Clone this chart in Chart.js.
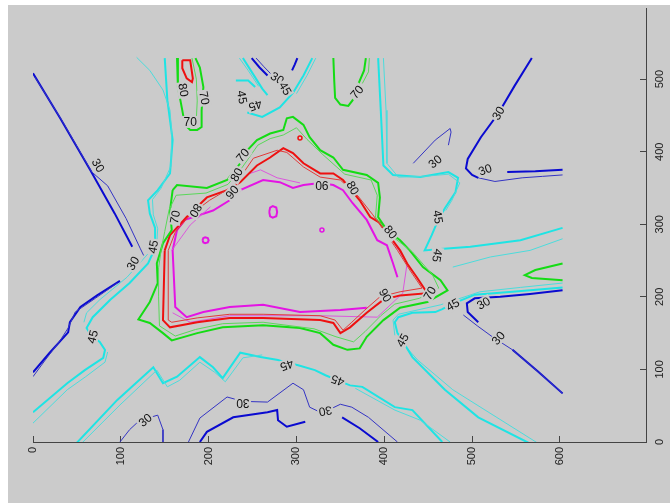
<!DOCTYPE html>
<html>
<head>
<meta charset="utf-8">
<script src="https://cdn.jsdelivr.net/npm/chart.js@4/dist/chart.umd.min.js"></script>
<style>
  html, body { margin: 0; padding: 0; background: #fff; }
  #wrap { position: absolute; left: 0; top: 0; width: 670px; height: 503px; }
</style>
</head>
<body>
<div id="wrap"><canvas id="c" width="670" height="503"></canvas></div>
<script>
// Contour levels drawn on the map
const levels = [30, 45, 70, 80, 90];

// Axis ticks
const xTicks = [0, 100, 200, 300, 400, 500, 600];
const yTicks = [0, 100, 200, 300, 400, 500];

// ---- level 30 ----
const c30_nw_upper = [[0,508],[31,446],[65,375],[93,315],[113,269]];
const c30_nw_lower = [[99,222],[73,202],[54,186],[42,165],[40,151],[19,123],[0,96]];
const c30_nw_upper_thin = [[2,503],[33,443],[67,372],[85,353],[106,308],[122,267],[126,257]];
const c30_nw_lower_thin = [[96,219],[71,198],[48,179],[40,157],[31,140],[14,113],[0,90]];
const c30_n_stubA = [[249,529],[258,516],[267,505]];
const c30_n_stubA_thin = [[254,529],[263,517],[271,507]];
const c30_n_stubB = [[301,529],[298,520],[295,512]];
const c30_ne_arm = [[568,529],[548,490],[530,453],[510,420],[495,390],[493,377],[500,368],[507,364]];
const c30_ne_tail_thin = [[507,364],[526,359],[557,364],[580,366],[603,368]];
const c30_ne_bar = [[540,372],[572,373],[603,375]];
const c30_ne_hook_thin = [[433,384],[458,416],[475,432],[476,427],[473,409]];
const c30_se_hook = [[507,165],[495,179],[494,191],[503,198],[532,200],[566,204],[603,209]];
const c30_se_diag_thin = [[490,175],[506,160],[523,145],[546,127],[575,97],[603,67]];
const c30_se_diag = [[546,127],[575,97],[603,67]];
const c30_s_arch_thin = [[99,0],[110,17],[118,26],[128,32],[142,37],[148,17],[148,0]];
const c30_s_mid_thin = [[177,0],[190,33],[221,62],[239,56],[267,55],[296,81],[308,72],[315,48],[327,41],[338,45],[350,52],[363,48],[382,34],[415,0]];
const c30_s_mid = [[190,0],[198,14],[228,34],[267,41],[278,44],[279,30],[289,21],[310,28]];
const c30_s_east = [[352,34],[372,19],[393,0]];

// ---- level 45 ----
const c45_w = [[150,529],[153,471],[159,416],[156,370],[142,347],[131,333],[133,315],[139,295],[139,278],[137,262],[131,246],[110,219],[88,196],[68,172],[61,157],[66,147],[76,138],[82,127],[80,116],[59,99],[39,81],[0,41]];
const c45_w_thin = [[118,530],[133,512],[148,485],[156,457],[158,425],[157,380],[146,350],[136,334],[137,313],[142,294],[141,275],[130,258],[107,227],[76,196],[61,178],[58,165]];
const c45_w_lower_thin = [[85,124],[82,110],[60,90],[39,72],[0,26]];
const c45_n_a = [[239,529],[249,510],[261,487],[267,478]];
const c45_n_a_thin = [[235,529],[245,512],[257,490]];
const c45_n_b = [[231,498],[245,498],[253,489]];
const c45_n_c = [[244,454],[261,448],[281,461],[296,481],[308,505],[318,529]];
const c45_n_c_thin = [[322,529],[312,505],[300,480]];
const c45_e_upper = [[393,529],[396,457],[399,381],[410,368],[441,365],[473,372],[484,364],[481,344],[469,322],[461,305],[454,285],[446,264],[464,266],[498,269],[555,278],[603,295]];
const c45_e_upper_thin = [[399,529],[402,457],[403,384],[416,365],[445,366],[473,369],[486,357],[477,333],[470,319]];
const c45_e_mid_thin = [[478,241],[521,255],[566,264],[603,280]];
const c45_e_lower = [[603,213],[546,207],[503,203],[477,190],[466,183],[458,179],[432,178],[416,172],[412,165],[415,150],[421,140],[426,129],[432,117],[469,72],[507,34],[564,-1]];
const c45_e_lower_thin = [[603,219],[555,213],[509,207],[464,189],[416,176],[410,168],[412,147]];
const c45_se_thin = [[418,140],[438,113],[478,72],[574,-1]];
const c45_s = [[50,-1],[96,58],[137,103],[148,81],[164,90],[190,117],[205,103],[216,88],[236,123],[259,117],[279,113],[289,109],[301,106],[321,99],[333,92],[347,85],[361,78],[375,76],[412,48],[432,44],[466,0]];
const c45_s_thin = [[56,-1],[99,51],[141,99],[153,76],[167,85],[190,110],[207,96],[219,83],[239,116],[261,120]];
const c45_s_east_thin = [[367,74],[412,44],[441,30],[475,0]];

// ---- level 70 ----
const c70_core = [[159,347],[164,354],[198,350],[221,361],[236,384],[244,402],[255,416],[270,425],[285,430],[289,446],[296,448],[308,437],[315,420],[327,402],[342,392],[353,375],[380,368],[393,357],[395,337],[393,310],[403,292],[418,278],[429,264],[444,241],[464,223],[472,209],[449,193],[418,185],[399,168],[380,145],[372,129],[358,127],[342,134],[327,150],[304,157],[262,161],[216,158],[187,150],[158,140],[148,150],[133,164],[120,169],[133,193],[142,219],[141,246],[148,274],[158,292],[156,319],[159,347]];
const c70_core_thin = [[163,340],[197,343],[222,355],[238,378],[256,409],[270,418],[285,423],[300,433],[312,417],[330,396],[355,369],[385,361],[392,340],[390,310],[405,287],[432,262],[455,230],[462,212],[440,198],[412,190],[396,174],[378,152],[365,138],[345,145],[320,156],[262,165],[216,163],[185,155],[162,146],[144,160],[143,200],[143,240],[146,265],[150,290],[155,320],[163,340]];
const c70_nw = [[164,529],[165,489],[170,457],[173,437],[179,430],[187,430],[192,434],[192,457],[194,489],[190,516],[185,529]];
const c70_nw_thin = [[181,529],[186,500],[187,470],[186,445]];
const c70_n = [[342,529],[343,498],[344,474],[350,465],[359,463],[364,471],[370,492],[377,512],[379,529]];
const c70_n_thin = [[383,529],[382,510],[375,494]];
const c70_e = [[603,246],[572,237],[560,230],[568,226],[603,223]];

// ---- level 80 ----
const c80_core = [[150,264],[156,285],[175,310],[198,337],[221,347],[236,358],[255,381],[270,392],[285,405],[296,398],[308,384],[327,370],[342,370],[353,361],[372,333],[384,310],[395,302],[407,282],[418,264],[426,246],[437,227],[449,205],[418,202],[399,196],[380,178],[361,158],[350,150],[342,164],[327,168],[262,171],[224,171],[187,165],[156,158],[148,168],[150,264]];
const c80_core_thin = [[154,168],[154,264],[162,289],[179,313],[201,333],[230,354],[251,391],[278,402],[289,399],[308,379],[327,365],[350,361],[370,339],[387,313],[401,289],[415,264],[429,237],[443,212],[418,207],[395,200],[378,182],[363,165],[353,154],[344,168],[327,174],[262,176],[224,176],[187,171],[158,165],[154,168]];
const c80_nw = [[170,526],[179,526],[182,501],[181,496],[175,501],[170,515],[170,526]];
const c80_spot = [[304,419]];

// ---- level 90 ----
const c90_core = [[380,185],[350,182],[304,179],[262,189],[224,186],[194,179],[175,172],[162,186],[159,264],[164,292],[173,306],[205,319],[224,333],[236,347],[262,361],[281,358],[296,350],[308,354],[327,357],[342,354],[353,347],[364,329],[380,306],[392,278],[403,271],[410,246],[415,227]];
const c90_west_thin = [[158,264],[179,299],[202,324]];
const c90_top_thin = [[247,370],[259,375],[278,364],[304,357]];
const c90_bottom_thin = [[159,178],[179,165],[224,174],[327,174],[392,172],[421,205],[426,246],[407,282]];
const c90_ringA = [[269,317],[270,323],[273,325],[277,323],[278,317],[277,311],[273,309],[270,311],[269,317]];
const c90_ringB = [[193,278],[194,281],[196,282],[199,281],[200,278],[199,275],[196,274],[194,275],[193,278]];
const c90_spot = [[329,292]];

// Inline contour labels: level, position, text angle (degrees)
const labelLevel = [30,30,30,30,30,30,30,30,30,30,30, 45,45,45,45,45,45,45,45,45,45,45, 70,70,70,70,70,70, 80,80,80,80,80, 90,90,90];
const labelX =     [74,114,128,239,333,278,458,530,515,513,530, 68,137,289,347,238,253,287,461,460,478,421, 179,195,369,239,162,452, 171,232,185,364,407, 227,329,401];
const labelY =     [381,246,30,54,43,501,386,453,375,191,143, 145,269,106,85,475,464,487,310,257,189,140, 441,474,482,395,310,205, 485,368,319,350,289, 344,354,202];
const labelAngle = [60,-60,-40,180,170,30,-40,-60,-20,-30,-50, -75,-80,160,200,80,160,60,80,100,-30,-60, 0,80,-50,-50,-80,-60, 80,-60,120,60,50, -50,180,60];

// Colours per level: [thick, thin]
const palette = {
  30: ['#0a0ad0', '#3434c4'],
  45: ['#1ee4e4', '#4cdcdc'],
  70: ['#14dc14', '#5ad85a'],
  80: ['#ee1010', '#e23a3a'],
  90: ['#e414e4', '#dc58dc']
};

const contours = [
  [30,1,c30_nw_upper_thin],[30,1,c30_nw_lower_thin],[30,0,c30_nw_upper],[30,0,c30_nw_lower],
  [30,1,c30_n_stubA_thin],[30,0,c30_n_stubA],[30,0,c30_n_stubB],
  [30,0,c30_ne_arm],[30,1,c30_ne_tail_thin],[30,0,c30_ne_bar],[30,1,c30_ne_hook_thin],
  [30,0,c30_se_hook],[30,1,c30_se_diag_thin],[30,0,c30_se_diag],
  [30,1,c30_s_arch_thin],[30,1,c30_s_mid_thin],[30,0,c30_s_mid],[30,0,c30_s_east],
  [45,1,c45_w_thin],[45,1,c45_w_lower_thin],[45,0,c45_w],
  [45,1,c45_n_a_thin],[45,0,c45_n_a],[45,0,c45_n_b],[45,1,c45_n_c_thin],[45,0,c45_n_c],
  [45,1,c45_e_upper_thin],[45,0,c45_e_upper],[45,1,c45_e_mid_thin],
  [45,1,c45_e_lower_thin],[45,0,c45_e_lower],[45,1,c45_se_thin],
  [45,1,c45_s_thin],[45,1,c45_s_east_thin],[45,0,c45_s],
  [70,1,c70_core_thin],[70,0,c70_core],[70,1,c70_nw_thin],[70,0,c70_nw],
  [70,1,c70_n_thin],[70,0,c70_n],[70,0,c70_e],
  [80,1,c80_core_thin],[80,0,c80_core],[80,0,c80_nw],
  [90,1,c90_west_thin],[90,1,c90_top_thin],[90,1,c90_bottom_thin],[90,0,c90_core],
  [90,0,c90_ringA],[90,0,c90_ringB]
];

const spots = [[80,c80_spot],[90,c90_spot]];

const toXY = pts => pts.map(p => ({ x: p[0], y: p[1] }));

const datasets = contours.map(([lv, thin, pts]) => ({
  data: toXY(pts),
  showLine: true,
  borderColor: palette[lv][thin],
  borderWidth: thin ? 1 : 2,
  pointRadius: 0,
  tension: 0,
  fill: false
})).concat(spots.map(([lv, pts]) => ({
  data: toXY(pts),
  showLine: false,
  pointRadius: 2,
  pointBorderWidth: 1.5,
  pointBorderColor: palette[lv][0],
  pointBackgroundColor: 'rgba(0,0,0,0)'
})));

const GREY = '#cbcbcb';
const FONT = '"Liberation Sans", Arial, sans-serif';

// Figure background: grey panel with a thin white margin on the top and left
const figureBackground = {
  id: 'figureBackground',
  beforeDraw(chart) {
    const { ctx, width, height } = chart;
    ctx.save();
    ctx.fillStyle = '#ffffff';
    ctx.fillRect(0, 0, width, height);
    ctx.fillStyle = GREY;
    ctx.fillRect(8, 5, width - 8, height - 5);
    ctx.restore();
  }
};

// Inline level labels that interrupt the contour lines
const contourLabels = {
  id: 'contourLabels',
  afterDatasetsDraw(chart) {
    const { ctx, scales: { x, y } } = chart;
    ctx.save();
    ctx.font = '12px ' + FONT;
    ctx.textAlign = 'center';
    ctx.textBaseline = 'middle';
    labelLevel.forEach((lv, i) => {
      const px = x.getPixelForValue(labelX[i]);
      const py = y.getPixelForValue(labelY[i]);
      const t = String(lv);
      const w = ctx.measureText(t).width;
      ctx.save();
      ctx.translate(px, py);
      ctx.rotate(labelAngle[i] * Math.PI / 180);
      ctx.fillStyle = GREY;
      ctx.fillRect(-w / 2 - 1.5, -6, w + 3, 12);
      ctx.fillStyle = '#111';
      ctx.fillText(t, 0, 0.5);
      ctx.restore();
    });
    ctx.restore();
  }
};

new Chart(document.getElementById('c'), {
  type: 'scatter',
  data: { datasets },
  options: {
    responsive: false,
    animation: false,
    devicePixelRatio: 1,
    layout: { padding: { left: 33, top: 8, right: 0, bottom: 0 } },
    plugins: { legend: { display: false }, tooltip: { enabled: false } },
    scales: {
      x: {
        type: 'linear',
        position: 'bottom',
        min: 0,
        max: 698,
        afterBuildTicks(s) { s.ticks = xTicks.map(v => ({ value: v })); },
        ticks: {
          minRotation: 90, maxRotation: 90, padding: 11,
          color: '#222', font: { family: FONT, size: 11 }
        },
        grid: { drawOnChartArea: false, drawTicks: true, tickLength: -6, color: '#444', tickColor: '#444' },
        border: { display: true, color: '#444', width: 1 },
        afterFit(s) { s.height = 61; s.paddingLeft = 0; s.paddingRight = 0; }
      },
      y: {
        type: 'linear',
        position: 'right',
        min: 0,
        max: 598,
        afterBuildTicks(s) { s.ticks = yTicks.map(v => ({ value: v })); },
        ticks: {
          minRotation: 90, maxRotation: 90, padding: 11, crossAlign: 'center',
          color: '#222', font: { family: FONT, size: 11 }
        },
        grid: { drawOnChartArea: false, drawTicks: true, tickLength: -6, color: '#444', tickColor: '#444' },
        border: { display: true, color: '#444', width: 1 },
        afterFit(s) { s.width = 24; s.paddingTop = 0; s.paddingBottom = 0; }
      }
    }
  },
  plugins: [figureBackground, contourLabels]
});
</script>
</body>
</html>
